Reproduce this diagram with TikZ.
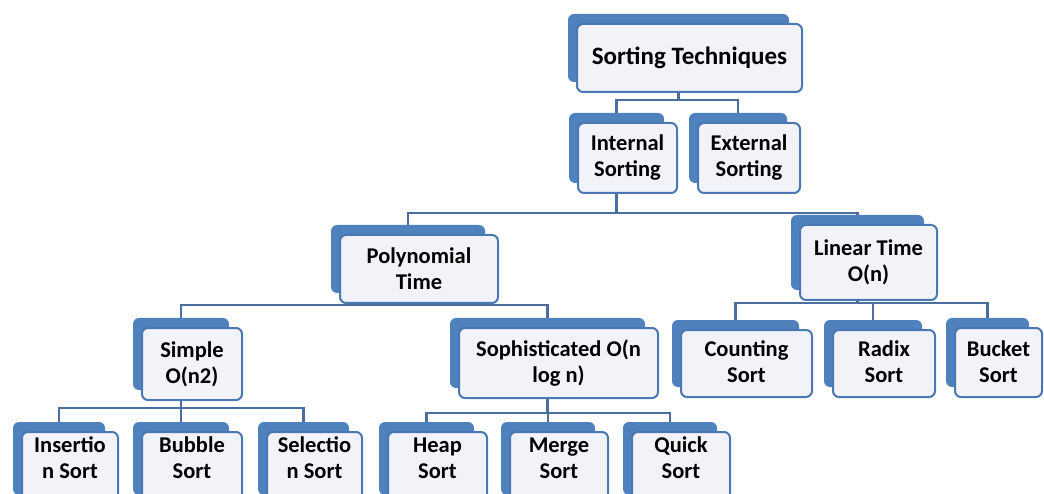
\documentclass[tikz,border=0pt]{standalone}
\usepackage{fontspec}
\setmainfont{Carlito}
\usetikzlibrary{backgrounds}
\definecolor{backblue}{HTML}{4F81BD}
\definecolor{edgeblue}{HTML}{4A78B2}
\definecolor{connblue}{HTML}{4A6E9E}
\definecolor{frontfill}{HTML}{F1F3F9}
\tikzset{
  frontbox/.style={draw=edgeblue, line width=2pt, fill=frontfill, rounded corners=6pt, inner sep=0pt},
  backbox/.style={fill=backblue, rounded corners=6pt, inner sep=0pt},
  boxtext/.style={align=center, font=\bfseries\fontsize{22.5}{26}\selectfont, text=black, inner sep=0pt},
  conn/.style={draw=connblue, line width=2.8pt},
}
% name, x0, y0, x1, y1, text centre y, text
\newcommand{\tbox}[7]{%
  \node[backbox, minimum width={(#4-#2-4)*1pt}, minimum height={(#5-#3)*1pt}] (#1-b) at ({(#2+#4)/2-11},{(#3+#5)/2-10}) {};
  \node[frontbox, minimum width={(#4-#2)*1pt}, minimum height={(#5-#3)*1pt}] (#1) at ({(#2+#4)/2},{(#3+#5)/2}) {};
  \node[boxtext] (#1-t) at ({(#2+#4)/2},#6) {#7};
}
\begin{document}
\begin{tikzpicture}[x=1pt,y=-1pt]
\useasboundingbox (0,0) rectangle (1044,494);
\clip (0,0) rectangle (1044,494);

\tbox{top}{577}{24}{802}{92}{58}{{\fontsize{25}{30}\selectfont Sorting Techniques}}
\tbox{int}{578}{123}{677}{193}{158}{Internal\\Sorting}
\tbox{ext}{698}{123}{800}{193}{158}{External\\Sorting}
\tbox{poly}{340}{235}{498}{303}{269}{Polynomial\\Time}
\tbox{lin}{800}{225}{937}{300}{262}{Linear Time\\O(n)}
\tbox{simple}{142}{328}{242}{400}{364}{Simple\\O(n2)}
\tbox{soph}{459}{328}{658}{398}{363}{Sophisticated O(n\\log n)}
\tbox{count}{681}{330}{812}{397}{362}{Counting\\Sort}
\tbox{radix}{833}{330}{935}{397}{362}{Radix\\Sort}
\tbox{bucket}{955}{328}{1042}{397}{362}{Bucket\\Sort}
\tbox{ins}{22}{432}{118}{505}{458}{Insertio\\n Sort}
\tbox{bub}{142}{432}{242}{505}{458}{Bubble\\Sort}
\tbox{sel}{267}{432}{362}{505}{458}{Selectio\\n Sort}
\tbox{heap}{388}{432}{487}{505}{458}{Heap\\Sort}
\tbox{merge}{510}{432}{608}{505}{458}{Merge\\Sort}
\tbox{quick}{632}{432}{730}{505}{458}{Quick\\Sort}

\coordinate (l1) at (0,100);
\coordinate (l2) at (0,213);
\coordinate (l3) at (0,305);
\coordinate (l3b) at (0,303);
\coordinate (l4) at (0,408);
\coordinate (l4b) at (0,413);

\begin{pgfonlayer}{background}
\fill[white] (0,0) rectangle (1044,494);
\draw[conn] (top-b.center) -- (top-b.center |- l1);
\draw[conn] (int-b.north) |- (ext-b.north |- l1) -- (ext-b.north);

\draw[conn] (int-b.center) -- (int-b.center |- l2);
\draw[conn] (poly-b.north) |- (lin-b.north |- l2) -- (lin-b.north);

\draw[conn] (poly-b.center) -- (poly-b.center |- l3);
\draw[conn] (simple-b.north) |- (soph-b.north |- l3) -- (soph-b.north);

\draw[conn] (lin-b.center) -- (lin-b.center |- l3b);
\draw[conn] (count-b.north) |- (bucket-b.north |- l3b) -- (bucket-b.north);
\draw[conn] (radix-b.north) -- (radix-b.north |- l3b);

\draw[conn] (simple-b.center) -- (simple-b.center |- l4);
\draw[conn] (ins-b.north) |- (sel-b.north |- l4) -- (sel-b.north);
\draw[conn] (bub-b.north) -- (bub-b.north |- l4);

\draw[conn] (soph-b.center) -- (soph-b.center |- l4b);
\draw[conn] (heap-b.north) |- (quick-b.north |- l4b) -- (quick-b.north);
\draw[conn] (merge-b.north) -- (merge-b.north |- l4b);
\end{pgfonlayer}
\end{tikzpicture}
\end{document}
